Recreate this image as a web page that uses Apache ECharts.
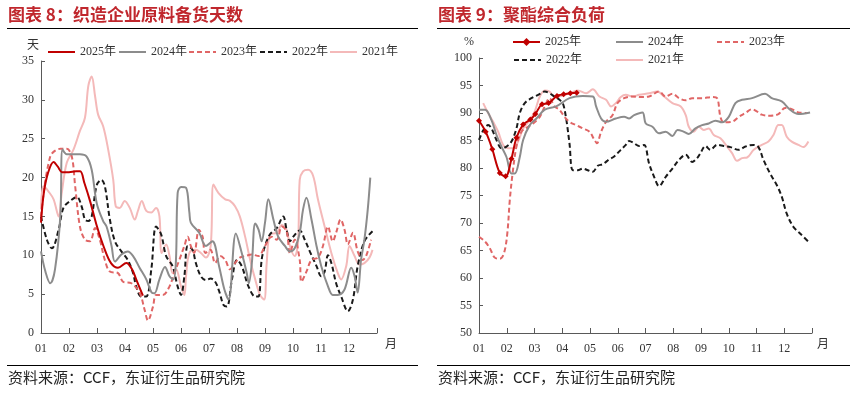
<!DOCTYPE html>
<html><head><meta charset="utf-8">
<script src="https://cdn.jsdelivr.net/npm/echarts@6/dist/echarts.min.js"></script>
<style>
html,body{margin:0;padding:0;background:#fff;width:860px;height:394px;overflow:hidden;}
#a,#b{position:absolute;top:0;width:430px;height:394px;}
#a{left:0} #b{left:430px}
</style>
</head><body><div id="a"></div><div id="b"></div>
<script>
// ---------- shared ----------
const monthLabels = ['01','02','03','04','05','06','07','08','09','10','11','12'];
const seriesNames = ['2025年','2024年','2023年','2022年','2021年'];

// ---------- left chart: 织造企业原料备货天数 (x = months since Jan 1) ----------
const stockM2025 = [0,0.1,0.25,0.45,0.6,0.75,1.0,1.25,1.4,1.55,1.75,2.0,2.25,2.5,2.75,3.05,3.25,3.4,3.64];
const stockV2025 = [14.2,18.0,20.6,22.0,21.4,20.7,20.7,20.8,20.8,19.3,17.0,13.7,11.0,9.0,8.4,9.0,8.2,6.9,4.8];

const stockM2024 = [0,0.15,0.33,0.5,0.69,0.77,0.92,1.39,1.63,1.81,1.99,2.22,2.34,2.52,2.64,2.87,3.1,3.29,3.52,3.76,3.95,4.05,4.23,4.43,4.59,4.73,4.82,4.88,5.0,5.18,5.3,5.35,5.65,5.89,6.12,6.36,6.55,6.7,6.96,7.17,7.35,7.42,7.53,7.65,7.77,7.88,8.0,8.12,8.3,8.47,8.71,8.89,9.06,9.24,9.36,9.48,9.66,9.84,10.01,10.25,10.42,10.6,10.84,11.08,11.2,11.31,11.43,11.55,11.67,11.76];
const stockV2024 = [10.5,8.0,6.4,8.2,15.0,23.6,23.0,23.0,22.7,21.0,16.7,14.4,13.7,11.2,9.2,10.1,10.5,9.9,8.4,6.9,5.2,5.1,6.9,8.5,7.3,6.9,9.4,18.0,18.8,18.7,15.5,14.2,12.9,11.2,11.8,8.6,5.6,4.3,12.8,10.3,7.7,6.4,9.0,14.1,13.3,11.8,14.2,17.2,14.6,12.4,11.2,10.5,10.9,12.9,15.9,17.4,14.6,11.2,8.6,6.0,4.9,4.9,5.6,8.4,7.3,5.2,9.4,12.0,15.9,20.0];

const stockM2023 = [0,0.33,0.69,0.92,1.1,1.22,1.39,1.57,1.75,1.93,2.1,2.28,2.46,2.75,2.93,3.23,3.52,3.7,3.82,4.0,4.11,4.35,4.59,4.76,4.94,5.12,5.24,5.35,5.47,5.64,5.77,5.87,6.05,6.22,6.4,6.58,6.75,6.93,7.1,7.29,7.53,7.77,8.0,8.24,8.42,8.6,8.77,8.89,9.06,9.24,9.3,9.48,9.66,9.89,10.07,10.25,10.42,10.54,10.7,10.84,10.96,11.14,11.31,11.49,11.61,11.79];
const stockV2023 = [15.0,22.7,23.7,23.7,22.7,18.9,13.7,12.0,11.8,13.5,12.0,9.4,7.9,7.7,6.6,6.4,5.2,3.0,1.6,3.4,4.9,4.9,6.0,7.7,9.4,11.2,12.4,11.2,10.3,13.3,12.4,10.3,10.7,9.0,9.9,9.4,8.2,9.0,9.7,9.9,10.1,9.9,11.2,12.4,12.0,13.7,13.1,10.3,12.0,9.4,6.6,7.9,9.4,9.7,11.2,13.7,11.8,12.9,14.6,13.3,11.4,12.9,10.5,9.4,9.9,12.0];

const stockM2022 = [0,0.21,0.39,0.63,0.8,1.04,1.28,1.45,1.57,1.69,1.81,1.99,2.16,2.28,2.46,2.64,2.87,3.1,3.29,3.4,3.58,3.76,3.94,4.11,4.29,4.47,4.7,4.88,5.0,5.12,5.24,5.41,5.53,5.71,5.89,6.06,6.22,6.36,6.52,6.64,6.82,7.0,7.17,7.41,7.65,7.77,7.88,8.0,8.18,8.42,8.65,8.77,8.89,9.01,9.24,9.42,9.6,9.84,10.01,10.13,10.25,10.37,10.54,10.72,10.96,11.14,11.31,11.55,11.84];
const stockV2022 = [15.0,12.0,10.9,13.3,16.1,17.0,17.5,16.3,14.6,14.4,15.0,19.0,19.7,18.9,14.6,11.8,10.5,9.4,7.7,6.0,4.7,4.7,8.2,13.7,12.7,9.9,8.6,6.0,4.9,7.3,11.2,10.7,9.0,7.3,6.8,7.0,6.6,5.4,3.6,3.4,6.9,9.4,8.6,6.0,4.7,4.7,9.4,11.2,12.7,13.5,15.0,13.3,11.8,12.4,13.2,12.0,10.5,8.6,7.3,7.9,10.0,9.0,6.4,4.7,2.8,4.3,8.6,11.8,13.1];

const stockM2021 = [0,0.09,0.27,0.45,0.63,0.74,0.92,1.16,1.39,1.57,1.69,1.81,1.93,2.04,2.22,2.4,2.58,2.67,2.81,2.99,3.17,3.35,3.46,3.6,3.76,3.94,4.11,4.23,4.31,4.47,4.59,4.7,4.82,5.0,5.12,5.18,5.3,5.53,5.71,5.89,6.06,6.16,6.34,6.58,6.75,6.93,7.1,7.29,7.47,7.65,7.82,7.97,8.06,8.18,8.42,8.6,8.77,8.89,9.06,9.18,9.24,9.36,9.54,9.72,9.89,10.13,10.37,10.6,10.72,10.9,11.02,11.2,11.37,11.55,11.73,11.84];
const stockV2021 = [15.9,18.9,18.2,17.2,15.0,18.0,21.9,23.6,26.0,27.7,31.8,33.0,30.5,28.1,26.6,23.6,19.7,16.3,16.1,17.0,16.1,14.6,15.7,17.0,15.7,15.5,16.1,15.0,10.3,11.4,9.9,7.7,8.2,6.0,4.9,7.3,10.3,10.7,10.3,9.7,11.2,19.1,18.0,17.2,17.0,16.3,15.0,12.4,9.4,6.9,4.9,4.3,9.0,12.7,12.9,13.9,13.3,11.2,9.9,11.6,19.7,20.8,21.0,20.2,17.2,13.7,10.3,7.7,6.9,8.6,11.2,9.9,8.8,9.0,9.7,10.7];

const stockTicks = {min:0, max:35, step:5};

// ---------- right chart: 聚酯综合负荷 ----------
const loadM2025 = [0,0.24,0.48,0.75,0.96,1.17,1.35,1.59,1.85,2.03,2.27,2.51,2.81,3.05,3.29,3.52];
const loadV2025 = [88.6,86.6,83.4,79.1,78.5,81.7,85.5,87.9,88.8,89.8,91.6,91.8,93.1,93.4,93.6,93.7];

const loadM2024 = [0,0.22,0.45,0.63,0.81,0.99,1.17,1.29,1.47,1.59,1.83,2.07,2.37,2.78,3.26,3.74,4.1,4.22,4.4,4.57,4.93,5.23,5.41,5.59,5.89,6.01,6.25,6.49,6.73,6.97,7.15,7.33,7.56,7.8,8.04,8.28,8.52,8.76,9.0,9.24,9.48,9.84,10.31,10.55,10.91,11.21,11.51,11.93];
const loadV2024 = [90.6,90.6,88.7,86.0,83.9,82.0,79.0,79.0,82.0,85.1,87.8,89.0,90.6,91.2,92.7,93.1,93.0,91.2,89.0,88.4,89.0,89.3,89.0,89.6,90.1,88.1,87.5,86.3,86.6,85.8,86.9,86.7,86.2,87.2,87.8,88.1,88.6,88.3,89.3,91.8,92.4,92.7,93.5,92.7,92.1,90.6,89.8,90.1];

const loadM2023 = [0,0.22,0.39,0.57,0.75,0.9,1.02,1.11,1.21,1.35,1.53,1.77,1.95,2.19,2.37,2.54,2.72,2.9,3.08,3.26,3.5,3.74,3.98,4.16,4.25,4.4,4.58,4.81,4.99,5.23,5.53,5.83,6.13,6.49,6.73,6.97,7.21,7.45,7.68,8.04,8.4,8.58,8.7,8.82,9.12,9.36,9.6,9.84,10.01,10.19,10.49,10.79,11.03,11.27,11.51,11.81];
const loadV2023 = [67.5,66.6,65.4,63.7,63.5,64.5,68.1,74.2,79.0,83.9,86.6,87.5,88.1,89.3,91.2,92.7,91.2,90.6,89.3,88.4,87.8,87.2,86.6,85.1,84.5,86.6,88.4,89.6,91.8,92.7,93.0,92.9,93.0,93.9,93.0,93.5,92.7,92.3,92.7,92.7,92.9,92.7,89.3,88.3,88.4,89.3,90.0,90.7,90.3,89.7,89.5,89.8,90.9,90.7,90.1,90.0];

const loadM2022 = [0,0.16,0.33,0.45,0.63,0.81,0.99,1.17,1.35,1.47,1.65,1.89,2.13,2.37,2.54,2.72,2.9,3.02,3.14,3.26,3.38,3.56,3.74,3.92,4.1,4.28,4.46,4.7,4.87,5.11,5.29,5.41,5.59,5.77,5.95,6.13,6.31,6.49,6.73,6.97,7.21,7.45,7.68,7.86,7.98,8.16,8.34,8.58,8.82,9.06,9.36,9.6,9.9,10.07,10.25,10.49,10.73,10.91,11.09,11.33,11.57,11.87];
const loadV2022 = [85.1,86.9,87.8,87.2,85.1,83.6,83.9,84.8,87.2,90.0,91.8,92.7,93.3,93.9,93.6,93.0,92.4,91.8,89.0,84.5,79.6,79.6,79.9,79.6,79.3,80.4,80.7,81.6,82.1,83.3,84.2,84.9,84.5,84.0,84.2,80.8,78.4,76.7,78.4,79.9,81.5,82.4,81.1,81.8,82.7,84.0,83.3,84.2,84.0,83.8,83.3,83.9,84.2,83.8,81.5,79.0,76.9,74.8,71.7,69.3,68.1,66.6];

const loadM2021 = [0.15,0.33,0.51,0.69,0.87,1.05,1.23,1.41,1.59,1.83,2.01,2.19,2.37,2.54,2.72,2.96,3.26,3.56,3.86,4.1,4.34,4.58,4.76,4.93,5.11,5.29,5.53,5.77,6.13,6.43,6.67,6.97,7.27,7.45,7.56,7.74,7.92,8.1,8.28,8.46,8.7,8.94,9.12,9.3,9.48,9.66,9.9,10.19,10.43,10.61,10.79,10.91,11.09,11.27,11.51,11.69,11.87];
const loadV2021 = [91.8,90.0,88.4,86.6,84.2,83.6,83.6,84.8,87.2,88.7,90.3,93.0,94.1,93.9,93.0,93.1,93.6,94.1,93.6,94.3,93.0,92.4,91.2,91.8,92.9,93.3,93.0,93.3,93.6,93.9,93.0,91.8,91.2,89.6,87.5,86.6,87.5,86.9,87.2,86.0,85.4,83.9,82.7,81.3,81.8,81.9,83.3,84.2,84.8,86.0,87.8,87.8,85.7,84.8,84.2,83.8,84.8];

const loadTicks = {min:50, max:100, step:5};

// ---------- styles ----------
const FONT = '"Liberation Serif","Noto Sans CJK SC",serif';
const colors = ['#c00000','#8c8c8c','#e06666','#1a1a1a','#f4b9b9'];
const lineTypes = ['solid','solid',[5,3],[5,3],'solid'];
const widths = [2,2,2,2,2];

function zip(m, v){ return m.map((x,i)=>[x, v[i]]); }

function buildSeries(pairs, withMarker){
  return pairs.map((d,i)=>({
    name: seriesNames[i], type:'line', data:d, smooth:0.35,
    symbol: (withMarker && i===0) ? 'diamond' : 'none',
    symbolSize: 6, showSymbol: withMarker && i===0,
    z: 10 - i + (i===0?10:0),
    itemStyle:{color:colors[i]},
    lineStyle:{color:colors[i], width:widths[i], type:lineTypes[i]},
    emphasis:{disabled:true}, animation:false
  }));
}

function axes(ticks){
  return {
    xAxis:{type:'value', min:0, max:12, interval:1,
      axisLine:{show:true, lineStyle:{color:'#595959', width:1}},
      axisTick:{show:true, inside:true, length:5, lineStyle:{color:'#595959'}},
      axisLabel:{color:'#333', fontFamily:FONT, fontSize:12, margin:10,
        formatter:(v)=> (v>=0 && v<12) ? monthLabels[v] : ''},
      splitLine:{show:false}},
    yAxis:{type:'value', min:ticks.min, max:ticks.max, interval:ticks.step,
      axisLine:{show:true, lineStyle:{color:'#595959', width:1}},
      axisTick:{show:true, inside:true, length:4, lineStyle:{color:'#595959'}},
      axisLabel:{color:'#333', fontFamily:FONT, fontSize:12, margin:7},
      splitLine:{show:false}}
  };
}

function legendItem(name, left, top, keepSymbol){
  return {data:[keepSymbol ? {name:name} : {name:name, itemStyle:{opacity:0}}],
    left:left, top:top, padding:0, itemWidth:27, itemHeight:10, itemGap:0,
    textStyle:{fontFamily:FONT, fontSize:12, color:'#333'},
    selectedMode:false};
}

function frame(title, x2){
  return [
    {type:'text', left:8, top:6, style:{text:title, font:'bold 17px "Noto Sans CJK SC"', fill:'#c0272d'}},
    {type:'line', shape:{x1:7,y1:28.5,x2:x2,y2:28.5}, style:{stroke:'#000', lineWidth:1}},
    {type:'line', shape:{x1:7,y1:365.5,x2:x2,y2:365.5}, style:{stroke:'#000', lineWidth:1}},
    {type:'text', left:8, top:370, style:{text:'资料来源：CCF，东证衍生品研究院', font:'15px "Noto Sans CJK SC"', fill:'#222'}}
  ];
}

// left
const ca = echarts.init(document.getElementById('a'), null, {renderer:'canvas'});
const la = axes(stockTicks);
ca.setOption({
  animation:false,
  grid:{left:41, right:53, top:61, bottom:61},
  xAxis: la.xAxis, yAxis: la.yAxis,
  legend:[legendItem(seriesNames[0],47,46), legendItem(seriesNames[1],118,46), legendItem(seriesNames[2],188,46), legendItem(seriesNames[3],259,46), legendItem(seriesNames[4],329,46)],
  graphic: frame('图表 8：织造企业原料备货天数', 418).concat([
    {type:'text', left:27, top:38, style:{text:'天', font:'12px "Noto Sans CJK SC"', fill:'#333'}},
    {type:'text', left:385, top:337, style:{text:'月', font:'12px "Noto Sans CJK SC"', fill:'#333'}}
  ]),
  series: buildSeries([zip(stockM2025,stockV2025), zip(stockM2024,stockV2024), zip(stockM2023,stockV2023), zip(stockM2022,stockV2022), zip(stockM2021,stockV2021)], false)
});

// right
const cb = echarts.init(document.getElementById('b'), null, {renderer:'canvas'});
const lb = axes(loadTicks);
cb.setOption({
  animation:false,
  grid:{left:49, right:48, top:58, bottom:61},
  xAxis: lb.xAxis, yAxis: lb.yAxis,
  legend:[legendItem(seriesNames[0],82,36,true), legendItem(seriesNames[1],185,36), legendItem(seriesNames[2],286,36), legendItem(seriesNames[3],83,54), legendItem(seriesNames[4],185,54)],
  graphic: frame('图表 9：聚酯综合负荷', 420).concat([
    {type:'text', left:34, top:36, style:{text:'%', font:'12px "Liberation Serif"', fill:'#333'}},
    {type:'text', left:387, top:337, style:{text:'月', font:'12px "Noto Sans CJK SC"', fill:'#333'}}
  ]),
  series: buildSeries([zip(loadM2025,loadV2025), zip(loadM2024,loadV2024), zip(loadM2023,loadV2023), zip(loadM2022,loadV2022), zip(loadM2021,loadV2021)], true)
});
</script>
</body></html>
